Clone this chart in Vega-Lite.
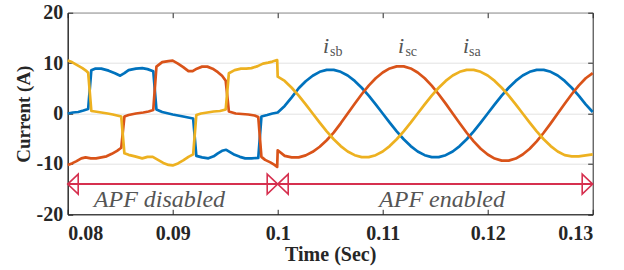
{
"$schema": "https://vega.github.io/schema/vega-lite/v6.json",
"width": 525, "height": 201.6,
"autosize": {"type": "none"},
"padding": {"left": 67.7, "top": 12.7, "right": 31.3, "bottom": 55.7},
"background": "white",
"config": {"view": {"stroke": "#262626", "strokeWidth": 1}},
"datasets": {
"cur": [
{"p":"isb","t":0.08,"v":0.0},{"p":"isb","t":0.0805,"v":0.2},{"p":"isb","t":0.081,"v":0.3},{"p":"isb","t":0.0815,"v":0.6},{"p":"isb","t":0.08195,"v":0.9},{"p":"isb","t":0.08225,"v":8.6},{"p":"isb","t":0.0826,"v":8.9},{"p":"isb","t":0.0832,"v":8.9},{"p":"isb","t":0.0839,"v":8.5},{"p":"isb","t":0.0845,"v":8.0},{"p":"isb","t":0.085,"v":7.5},{"p":"isb","t":0.0854,"v":8.0},{"p":"isb","t":0.0858,"v":8.6},{"p":"isb","t":0.0865,"v":8.9},{"p":"isb","t":0.0871,"v":9.0},{"p":"isb","t":0.0876,"v":8.8},{"p":"isb","t":0.08815,"v":8.4},{"p":"isb","t":0.08845,"v":0.8},{"p":"isb","t":0.089,"v":0.3},{"p":"isb","t":0.09,"v":-0.2},{"p":"isb","t":0.091,"v":-0.6},{"p":"isb","t":0.09195,"v":-1.0},{"p":"isb","t":0.09225,"v":-8.4},{"p":"isb","t":0.0928,"v":-8.7},{"p":"isb","t":0.0934,"v":-8.9},{"p":"isb","t":0.0939,"v":-8.5},{"p":"isb","t":0.0943,"v":-7.9},{"p":"isb","t":0.0947,"v":-7.4},{"p":"isb","t":0.0951,"v":-7.2},{"p":"isb","t":0.0955,"v":-7.7},{"p":"isb","t":0.0959,"v":-8.2},{"p":"isb","t":0.0964,"v":-8.6},{"p":"isb","t":0.0969,"v":-8.9},{"p":"isb","t":0.0975,"v":-8.9},{"p":"isb","t":0.09815,"v":-8.8},{"p":"isb","t":0.09845,"v":-0.6},{"p":"isb","t":0.099,"v":-0.3},{"p":"isb","t":0.0995,"v":0.0},
{"p":"isb","t":0.1,"v":0.2},{"p":"isb","t":0.100667,"v":1.5},{"p":"isb","t":0.101333,"v":3.2},{"p":"isb","t":0.102,"v":5.0},{"p":"isb","t":0.102667,"v":6.4},{"p":"isb","t":0.103333,"v":7.5},{"p":"isb","t":0.104,"v":8.27},{"p":"isb","t":0.104667,"v":8.65},{"p":"isb","t":0.105333,"v":8.65},{"p":"isb","t":0.106,"v":8.27},{"p":"isb","t":0.106667,"v":7.53},{"p":"isb","t":0.107333,"v":6.46},{"p":"isb","t":0.108,"v":5.11},{"p":"isb","t":0.108667,"v":3.54},{"p":"isb","t":0.109333,"v":1.81},{"p":"isb","t":0.11,"v":0},{"p":"isb","t":0.110667,"v":-1.81},{"p":"isb","t":0.111333,"v":-3.54},{"p":"isb","t":0.112,"v":-5.11},{"p":"isb","t":0.112667,"v":-6.46},{"p":"isb","t":0.113333,"v":-7.53},{"p":"isb","t":0.114,"v":-8.27},{"p":"isb","t":0.114667,"v":-8.65},{"p":"isb","t":0.115333,"v":-8.65},{"p":"isb","t":0.116,"v":-8.27},{"p":"isb","t":0.116667,"v":-7.53},{"p":"isb","t":0.117333,"v":-6.46},{"p":"isb","t":0.118,"v":-5.11},{"p":"isb","t":0.118667,"v":-3.54},{"p":"isb","t":0.119333,"v":-1.81},{"p":"isb","t":0.12,"v":0},{"p":"isb","t":0.120667,"v":1.81},{"p":"isb","t":0.121333,"v":3.54},{"p":"isb","t":0.122,"v":5.11},{"p":"isb","t":0.122667,"v":6.46},{"p":"isb","t":0.123333,"v":7.53},{"p":"isb","t":0.124,"v":8.27},{"p":"isb","t":0.124667,"v":8.65},{"p":"isb","t":0.125333,"v":8.65},{"p":"isb","t":0.126,"v":8.27},{"p":"isb","t":0.126667,"v":7.53},{"p":"isb","t":0.127333,"v":6.46},{"p":"isb","t":0.128,"v":5.11},{"p":"isb","t":0.128667,"v":3.54},{"p":"isb","t":0.129333,"v":1.81},{"p":"isb","t":0.13,"v":0.3},
{"p":"isc","t":0.08,"v":-10.2},{"p":"isc","t":0.0804,"v":-9.9},{"p":"isc","t":0.0808,"v":-9.5},{"p":"isc","t":0.0813,"v":-8.9},{"p":"isc","t":0.0817,"v":-8.7},{"p":"isc","t":0.0822,"v":-8.9},{"p":"isc","t":0.0827,"v":-8.9},{"p":"isc","t":0.0832,"v":-8.7},{"p":"isc","t":0.0837,"v":-8.5},{"p":"isc","t":0.0842,"v":-8.0},{"p":"isc","t":0.0847,"v":-7.4},{"p":"isc","t":0.0851,"v":-6.8},{"p":"isc","t":0.0854,"v":-0.6},{"p":"isc","t":0.0858,"v":-0.3},{"p":"isc","t":0.0865,"v":0.0},{"p":"isc","t":0.0872,"v":0.2},{"p":"isc","t":0.0877,"v":0.4},{"p":"isc","t":0.08815,"v":0.7},{"p":"isc","t":0.08845,"v":9.3},{"p":"isc","t":0.089,"v":10.2},{"p":"isc","t":0.0896,"v":10.4},{"p":"isc","t":0.09,"v":10.5},{"p":"isc","t":0.0905,"v":9.9},{"p":"isc","t":0.091,"v":9.2},{"p":"isc","t":0.0915,"v":8.4},{"p":"isc","t":0.0919,"v":8.4},{"p":"isc","t":0.0923,"v":8.9},{"p":"isc","t":0.0928,"v":9.3},{"p":"isc","t":0.0933,"v":9.3},{"p":"isc","t":0.0938,"v":8.9},{"p":"isc","t":0.0943,"v":8.2},{"p":"isc","t":0.0947,"v":7.5},{"p":"isc","t":0.09505,"v":6.5},{"p":"isc","t":0.09535,"v":0.4},{"p":"isc","t":0.096,"v":0.0},{"p":"isc","t":0.0966,"v":-0.1},{"p":"isc","t":0.0972,"v":-0.2},{"p":"isc","t":0.0978,"v":-0.4},{"p":"isc","t":0.09815,"v":-0.7},{"p":"isc","t":0.09845,"v":-8.6},{"p":"isc","t":0.0988,"v":-9.2},{"p":"isc","t":0.0993,"v":-9.7},{"p":"isc","t":0.0997,"v":-10.2},{"p":"isc","t":0.09995,"v":-10.6},
{"p":"isc","t":0.1,"v":-7.3},{"p":"isc","t":0.100667,"v":-8.4},{"p":"isc","t":0.101333,"v":-8.7},{"p":"isc","t":0.102,"v":-8.7},{"p":"isc","t":0.102667,"v":-8.3},{"p":"isc","t":0.103333,"v":-7.6},{"p":"isc","t":0.104,"v":-6.6},{"p":"isc","t":0.104667,"v":-5.3},{"p":"isc","t":0.105333,"v":-3.8},{"p":"isc","t":0.106,"v":-1.95},{"p":"isc","t":0.106667,"v":0},{"p":"isc","t":0.107333,"v":1.95},{"p":"isc","t":0.108,"v":3.82},{"p":"isc","t":0.108667,"v":5.53},{"p":"isc","t":0.109333,"v":6.99},{"p":"isc","t":0.11,"v":8.14},{"p":"isc","t":0.110667,"v":8.94},{"p":"isc","t":0.111333,"v":9.35},{"p":"isc","t":0.112,"v":9.35},{"p":"isc","t":0.112667,"v":8.94},{"p":"isc","t":0.113333,"v":8.14},{"p":"isc","t":0.114,"v":6.99},{"p":"isc","t":0.114667,"v":5.53},{"p":"isc","t":0.115333,"v":3.82},{"p":"isc","t":0.116,"v":1.95},{"p":"isc","t":0.116667,"v":0},{"p":"isc","t":0.117333,"v":-1.95},{"p":"isc","t":0.118,"v":-3.82},{"p":"isc","t":0.118667,"v":-5.53},{"p":"isc","t":0.119333,"v":-6.99},{"p":"isc","t":0.12,"v":-8.14},{"p":"isc","t":0.120667,"v":-8.94},{"p":"isc","t":0.121333,"v":-9.35},{"p":"isc","t":0.122,"v":-9.35},{"p":"isc","t":0.122667,"v":-8.94},{"p":"isc","t":0.123333,"v":-8.14},{"p":"isc","t":0.124,"v":-6.99},{"p":"isc","t":0.124667,"v":-5.53},{"p":"isc","t":0.125333,"v":-3.82},{"p":"isc","t":0.126,"v":-1.95},{"p":"isc","t":0.126667,"v":0},{"p":"isc","t":0.127333,"v":1.95},{"p":"isc","t":0.128,"v":3.82},{"p":"isc","t":0.128667,"v":5.53},{"p":"isc","t":0.129333,"v":6.99},{"p":"isc","t":0.13,"v":8.0},
{"p":"isa","t":0.08,"v":10.5},{"p":"isa","t":0.0804,"v":10.2},{"p":"isa","t":0.0809,"v":9.6},{"p":"isa","t":0.0814,"v":9.0},{"p":"isa","t":0.0818,"v":8.4},{"p":"isa","t":0.08195,"v":8.1},{"p":"isa","t":0.08225,"v":0.5},{"p":"isa","t":0.0826,"v":0.4},{"p":"isa","t":0.0832,"v":0.2},{"p":"isa","t":0.0838,"v":0.0},{"p":"isa","t":0.0843,"v":-0.2},{"p":"isa","t":0.0847,"v":-0.4},{"p":"isa","t":0.0851,"v":-0.6},{"p":"isa","t":0.0854,"v":-7.9},{"p":"isa","t":0.0858,"v":-8.2},{"p":"isa","t":0.0864,"v":-8.5},{"p":"isa","t":0.0871,"v":-8.9},{"p":"isa","t":0.0876,"v":-8.6},{"p":"isa","t":0.0881,"v":-8.6},{"p":"isa","t":0.0886,"v":-9.2},{"p":"isa","t":0.0891,"v":-9.8},{"p":"isa","t":0.0896,"v":-10.2},{"p":"isa","t":0.09,"v":-10.3},{"p":"isa","t":0.0905,"v":-9.9},{"p":"isa","t":0.091,"v":-9.3},{"p":"isa","t":0.0915,"v":-8.6},{"p":"isa","t":0.09195,"v":-8.1},{"p":"isa","t":0.09225,"v":-0.3},{"p":"isa","t":0.0927,"v":0.0},{"p":"isa","t":0.0933,"v":0.2},{"p":"isa","t":0.0939,"v":0.4},{"p":"isa","t":0.0945,"v":0.5},{"p":"isa","t":0.09505,"v":0.8},{"p":"isa","t":0.09535,"v":8.0},{"p":"isa","t":0.0959,"v":8.6},{"p":"isa","t":0.0965,"v":8.9},{"p":"isa","t":0.097,"v":8.9},{"p":"isa","t":0.0975,"v":9.0},{"p":"isa","t":0.0981,"v":9.4},{"p":"isa","t":0.0986,"v":9.9},{"p":"isa","t":0.0991,"v":10.1},{"p":"isa","t":0.0995,"v":10.3},{"p":"isa","t":0.09995,"v":10.6},
{"p":"isa","t":0.1,"v":7.3},{"p":"isa","t":0.100667,"v":6.46},{"p":"isa","t":0.101333,"v":5.11},{"p":"isa","t":0.102,"v":3.54},{"p":"isa","t":0.102667,"v":1.81},{"p":"isa","t":0.103333,"v":0},{"p":"isa","t":0.104,"v":-1.81},{"p":"isa","t":0.104667,"v":-3.54},{"p":"isa","t":0.105333,"v":-5.11},{"p":"isa","t":0.106,"v":-6.46},{"p":"isa","t":0.106667,"v":-7.53},{"p":"isa","t":0.107333,"v":-8.27},{"p":"isa","t":0.108,"v":-8.65},{"p":"isa","t":0.108667,"v":-8.65},{"p":"isa","t":0.109333,"v":-8.27},{"p":"isa","t":0.11,"v":-7.53},{"p":"isa","t":0.110667,"v":-6.46},{"p":"isa","t":0.111333,"v":-5.11},{"p":"isa","t":0.112,"v":-3.54},{"p":"isa","t":0.112667,"v":-1.81},{"p":"isa","t":0.113333,"v":0},{"p":"isa","t":0.114,"v":1.81},{"p":"isa","t":0.114667,"v":3.54},{"p":"isa","t":0.115333,"v":5.11},{"p":"isa","t":0.116,"v":6.46},{"p":"isa","t":0.116667,"v":7.53},{"p":"isa","t":0.117333,"v":8.27},{"p":"isa","t":0.118,"v":8.65},{"p":"isa","t":0.118667,"v":8.65},{"p":"isa","t":0.119333,"v":8.27},{"p":"isa","t":0.12,"v":7.53},{"p":"isa","t":0.120667,"v":6.46},{"p":"isa","t":0.121333,"v":5.11},{"p":"isa","t":0.122,"v":3.54},{"p":"isa","t":0.122667,"v":1.81},{"p":"isa","t":0.123333,"v":0},{"p":"isa","t":0.124,"v":-1.81},{"p":"isa","t":0.124667,"v":-3.54},{"p":"isa","t":0.125333,"v":-5.11},{"p":"isa","t":0.126,"v":-6.46},{"p":"isa","t":0.126667,"v":-7.53},{"p":"isa","t":0.127333,"v":-8.27},{"p":"isa","t":0.128,"v":-8.5},{"p":"isa","t":0.128667,"v":-8.5},{"p":"isa","t":0.129333,"v":-8.3},{"p":"isa","t":0.13,"v":-8.1}
]
},
"layer": [
{
"data": {"name": "cur"},
"mark": {"type": "line", "strokeWidth": 2.7, "strokeJoin": "round"},
"encoding": {
"x": {"field": "t", "type": "quantitative",
 "scale": {"domain": [0.08, 0.13], "nice": false, "zero": false},
 "axis": {"orient": "bottom", "values": [0.08, 0.09, 0.1, 0.11, 0.12, 0.13], "format": ".2~f", "grid": false,
  "tickSize": -5, "tickColor": "#262626", "domainColor": "#262626", "labelPadding": 14.5,
  "labelFont": "Liberation Serif", "labelFontWeight": "bold", "labelFontSize": 20, "labelColor": "#262626",
  "title": "Time (Sec)", "titleFont": "Liberation Serif", "titleFontWeight": "bold", "titleFontSize": 20,
  "titleColor": "#262626", "titleY": 46, "titleBaseline": "alphabetic"}},
"y": {"field": "v", "type": "quantitative",
 "scale": {"domain": [-20, 20], "nice": false, "zero": false},
 "axis": {"orient": "left", "values": [-20, -10, 0, 10, 20], "labelExpr": "'' + datum.value", "grid": true,
  "gridColor": "#e2e2e2", "gridWidth": 1, "tickSize": -5, "tickColor": "#262626", "domainColor": "#262626",
  "labelPadding": 10, "labelFont": "Liberation Serif", "labelFontWeight": "bold", "labelFontSize": 20, "labelColor": "#262626",
  "title": "Current (A)", "titleFont": "Liberation Serif", "titleFontWeight": "bold", "titleFontSize": 19,
  "titleColor": "#262626", "titleX": -38, "titleY": 101, "titleBaseline": "alphabetic"}},
"color": {"field": "p", "type": "nominal",
 "scale": {"domain": ["isb", "isc", "isa"], "range": ["#0072BD", "#D95319", "#EDB120"]}, "legend": null}
}
},
{
"data": {"values": [{"a": 0.08, "b": 0.1, "y": -14}, {"a": 0.1, "b": 0.13, "y": -14}]},
"mark": {"type": "rule", "color": "#d6304f", "strokeWidth": 2},
"encoding": {
"x": {"field": "a", "type": "quantitative", "axis": null},
"x2": {"field": "b"},
"y": {"field": "y", "type": "quantitative", "axis": null}
}
},
{
"data": {"values": [{"t": 0.08, "y": -14, "dir": "left"}, {"t": 0.1, "y": -14, "dir": "right"}, {"t": 0.1, "y": -14, "dir": "left"}, {"t": 0.13, "y": -14, "dir": "right"}]},
"mark": {"type": "point", "filled": false, "size": 400, "strokeWidth": 1.6, "color": "#d6304f", "opacity": 1},
"encoding": {
"x": {"field": "t", "type": "quantitative", "axis": null},
"y": {"field": "y", "type": "quantitative", "axis": null},
"shape": {"field": "dir", "type": "nominal", "scale": {"domain": ["left", "right"], "range": ["M0,0L1.05,-1L1.05,1Z", "M0,0L-1.05,-1L-1.05,1Z"]}, "legend": null}
}
},
{
"data": {"values": [{"t": 0.08874, "y": -18.6, "label": "APF disabled"}, {"t": 0.11565, "y": -18.6, "label": "APF enabled"}]},
"mark": {"type": "text", "font": "Liberation Serif", "fontStyle": "italic", "fontSize": 24, "color": "#555555", "align": "center", "baseline": "alphabetic"},
"encoding": {
"x": {"field": "t", "type": "quantitative", "axis": null},
"y": {"field": "y", "type": "quantitative", "axis": null},
"text": {"field": "label"}
}
},
{
"data": {"values": [{"t": 0.10431, "y": 11.94, "label": "i"}, {"t": 0.11146, "y": 11.94, "label": "i"}, {"t": 0.11765, "y": 11.94, "label": "i"}]},
"mark": {"type": "text", "font": "Liberation Serif", "fontStyle": "italic", "fontSize": 22, "color": "#555555", "align": "left", "baseline": "alphabetic"},
"encoding": {
"x": {"field": "t", "type": "quantitative", "axis": null},
"y": {"field": "y", "type": "quantitative", "axis": null},
"text": {"field": "label"}
}
},
{
"data": {"values": [{"t": 0.10499, "y": 11.47, "label": "sb"}, {"t": 0.11216, "y": 11.47, "label": "sc"}, {"t": 0.11822, "y": 11.47, "label": "sa"}]},
"mark": {"type": "text", "font": "Liberation Serif", "fontSize": 14, "color": "#555555", "align": "left", "baseline": "alphabetic"},
"encoding": {
"x": {"field": "t", "type": "quantitative", "axis": null},
"y": {"field": "y", "type": "quantitative", "axis": null},
"text": {"field": "label"}
}
},
{
"data": {"values": [{"t": 0.08, "v": 0}]},
"mark": {"type": "point", "opacity": 0},
"encoding": {
"x": {"field": "t", "type": "quantitative",
 "axis": {"orient": "top", "values": [0.08, 0.09, 0.1, 0.11, 0.12, 0.13], "labels": false, "grid": false, "domain": false, "tickSize": -5, "tickColor": "#262626", "title": null}},
"y": {"field": "v", "type": "quantitative",
 "axis": {"orient": "right", "values": [-20, -10, 0, 10, 20], "labels": false, "grid": false, "domain": false, "tickSize": -5, "tickColor": "#262626", "title": null}}
}
}
],
"resolve": {"axis": {"x": "independent", "y": "independent"}}
}
